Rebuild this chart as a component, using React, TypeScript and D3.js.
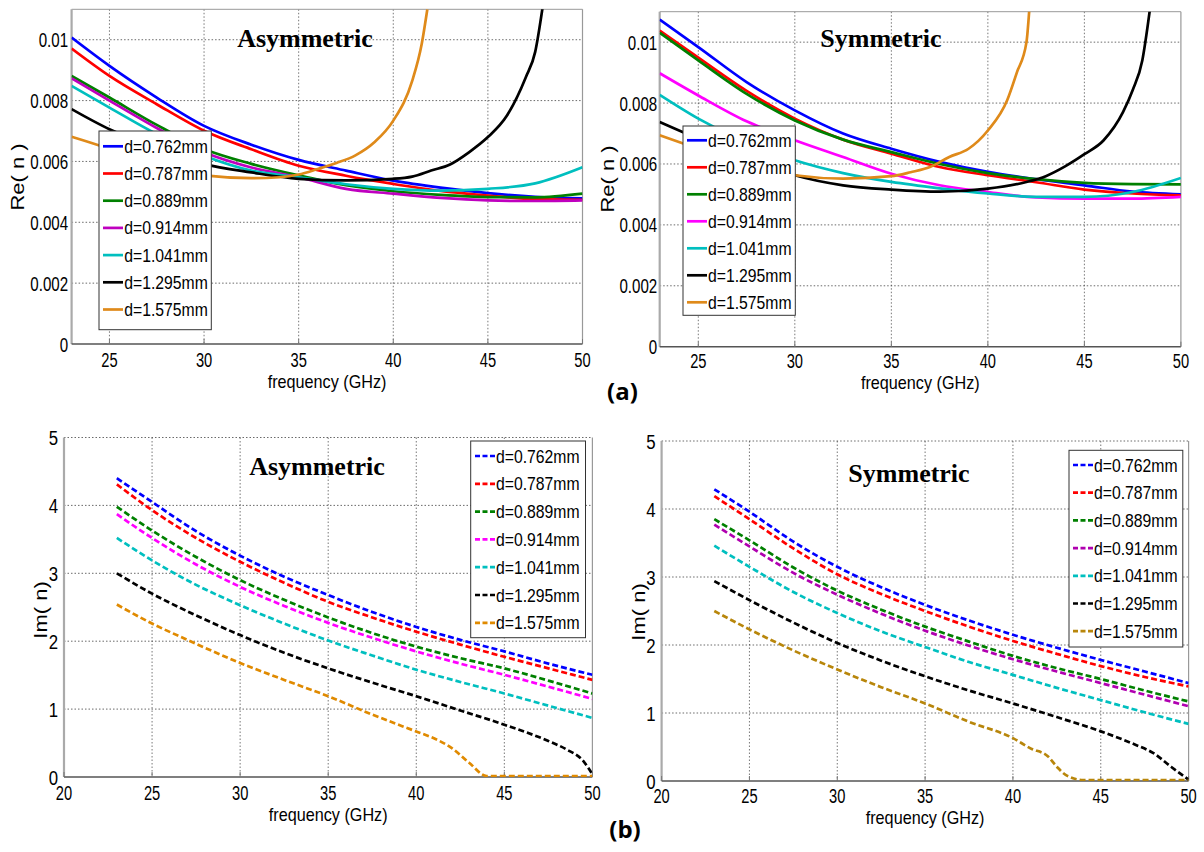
import React from "react";
import * as d3 from "d3";

// ---------- data ----------
const LABELS = ["d=0.762mm", "d=0.787mm", "d=0.889mm", "d=0.914mm", "d=1.041mm", "d=1.295mm", "d=1.575mm"];

const FREQ = [23, 25, 27.5, 30, 32.5, 35, 37.5, 40, 42.5, 45, 47.5, 50];

// Re(n) – asymmetric
const reA_0762 = [0.01007, 0.00914, 0.0081, 0.00717, 0.00655, 0.00605, 0.0057, 0.00537, 0.00514, 0.00496, 0.00484, 0.00479];
const reA_0787 = [0.00971, 0.00881, 0.00788, 0.00701, 0.0064, 0.00586, 0.00553, 0.00526, 0.00503, 0.00488, 0.00476, 0.00474];
const reA_0889 = [0.00881, 0.0081, 0.0072, 0.00641, 0.00592, 0.00554, 0.00522, 0.00502, 0.0049, 0.00483, 0.00482, 0.00494];
const reA_0914 = [0.00873, 0.008, 0.0071, 0.0063, 0.0058, 0.00548, 0.0051, 0.00494, 0.0048, 0.00472, 0.0047, 0.00472];
const reA_1041 = [0.00848, 0.00777, 0.0069, 0.00619, 0.0057, 0.00548, 0.00525, 0.0051, 0.00504, 0.0051, 0.00528, 0.00581];
const fReA_1295 = [23, 25, 27.5, 30, 32.5, 35, 37.5, 40, 41, 42, 43, 44, 45, 46, 47, 47.5, 47.9];
const reA_1295 = [0.00772, 0.00706, 0.00646, 0.00592, 0.00564, 0.00543, 0.00538, 0.00543, 0.0055, 0.0057, 0.0059, 0.0063, 0.0068, 0.0075, 0.00876, 0.0096, 0.0111];
const fReA_1575 = [23, 25, 27.5, 30, 32.5, 34, 35, 36, 37, 38, 39, 40, 41, 41.5, 41.8];
const reA_1575 = [0.00681, 0.00641, 0.0058, 0.00554, 0.00545, 0.00548, 0.00557, 0.00575, 0.00595, 0.0062, 0.00663, 0.00734, 0.00865, 0.00985, 0.011];

// Re(n) – symmetric
const reS_0762 = [0.01074, 0.00984, 0.00869, 0.00776, 0.007, 0.0065, 0.00607, 0.00574, 0.0055, 0.0053, 0.00509, 0.005];
const reS_0787 = [0.01038, 0.00949, 0.0084, 0.00749, 0.0068, 0.00634, 0.0059, 0.00563, 0.0054, 0.00516, 0.00503, 0.00497];
const reS_0889 = [0.01031, 0.0094, 0.0083, 0.00743, 0.0068, 0.00639, 0.006, 0.0057, 0.0055, 0.00538, 0.00534, 0.00533];
const reS_0914 = [0.00898, 0.00825, 0.0074, 0.00678, 0.00623, 0.00568, 0.0053, 0.00508, 0.0049, 0.00486, 0.00486, 0.00492];
const reS_1041 = [0.00827, 0.00749, 0.0067, 0.00612, 0.0057, 0.00541, 0.0052, 0.00503, 0.00492, 0.00492, 0.00508, 0.00554];
const fReS_1295 = [23, 25, 27.5, 30, 32.5, 35, 37.5, 40, 42, 43, 44, 45, 46, 47, 47.5, 48, 48.4];
const reS_1295 = [0.00738, 0.00683, 0.0062, 0.00563, 0.0053, 0.00516, 0.00509, 0.00519, 0.00541, 0.0056, 0.00592, 0.00632, 0.00678, 0.0077, 0.00842, 0.0094, 0.0111];
const fReS_1575 = [23, 25, 28, 30, 32.5, 35, 36, 37, 38, 39, 40, 41, 41.5, 42, 42.15];
const reS_1575 = [0.00694, 0.0065, 0.0059, 0.00563, 0.00552, 0.0056, 0.00573, 0.0059, 0.00623, 0.0065, 0.0071, 0.00809, 0.009, 0.01, 0.0111];

// Im(n) – asymmetric
const imA_0762 = [4.40, 4.05, 3.62, 3.26, 2.95, 2.68, 2.43, 2.21, 2.02, 1.85, 1.67, 1.505];
const imA_0787 = [4.31, 3.93, 3.52, 3.17, 2.86, 2.58, 2.35, 2.14, 1.95, 1.77, 1.6, 1.43];
const imA_0889 = [3.98, 3.63, 3.24, 2.90, 2.61, 2.35, 2.12, 1.92, 1.75, 1.60, 1.42, 1.23];
const imA_0914 = [3.87, 3.52, 3.13, 2.80, 2.52, 2.27, 2.05, 1.85, 1.67, 1.505, 1.33, 1.15];
const imA_1041 = [3.52, 3.19, 2.83, 2.53, 2.26, 2.01, 1.79, 1.58, 1.40, 1.23, 1.05, 0.87];
const fImA_1295 = [23, 25, 27.5, 30, 32.5, 35, 37.5, 40, 42.5, 45, 47.5, 48.5, 49.5, 50];
const imA_1295 = [3.0, 2.70, 2.38, 2.09, 1.83, 1.60, 1.39, 1.19, 0.98, 0.77, 0.53, 0.41, 0.23, 0.04];
const fImA_1575 = [23, 25, 27, 30, 32.5, 35, 37.5, 40, 41, 42, 43, 44, 45, 50];
const imA_1575 = [2.54, 2.26, 2.02, 1.68, 1.43, 1.19, 0.92, 0.67, 0.57, 0.43, 0.21, 0.015, 0.015, 0.015];

// Im(n) – symmetric
const imS_0762 = [4.29, 3.96, 3.52, 3.15, 2.85, 2.59, 2.36, 2.15, 1.96, 1.78, 1.61, 1.44];
const imS_0787 = [4.19, 3.85, 3.42, 3.04, 2.75, 2.50, 2.27, 2.06, 1.87, 1.69, 1.53, 1.39];
const imS_0889 = [3.85, 3.54, 3.14, 2.80, 2.52, 2.27, 2.05, 1.84, 1.66, 1.50, 1.33, 1.17];
const imS_0914 = [3.77, 3.45, 3.06, 2.74, 2.46, 2.21, 1.99, 1.79, 1.61, 1.44, 1.27, 1.10];
const imS_1041 = [3.46, 3.15, 2.78, 2.47, 2.20, 1.97, 1.75, 1.56, 1.37, 1.19, 1.01, 0.84];
const fImS_1295 = [23, 25, 27.5, 30, 32.5, 35, 37.5, 40, 42.5, 45, 47, 48, 49, 50];
const imS_1295 = [2.94, 2.66, 2.33, 2.03, 1.77, 1.54, 1.33, 1.14, 0.94, 0.73, 0.53, 0.41, 0.21, 0.02];
const fImS_1575 = [23, 25, 27.5, 30, 32.5, 35, 37.5, 40, 41, 42, 42.5, 43, 44, 45, 50];
const imS_1575 = [2.50, 2.23, 1.92, 1.64, 1.38, 1.14, 0.87, 0.63, 0.48, 0.36, 0.21, 0.09, 0.015, 0.015, 0.015];

const reTicks = [0, 0.002, 0.004, 0.006, 0.008, 0.01];
const reTickLabels = ["0", "0.002", "0.004", "0.006", "0.008", "0.01"];
const reXTicks = [25, 30, 35, 40, 45, 50];
const imTicks = [0, 1, 2, 3, 4, 5];
const imTickLabels = ["0", "1", "2", "3", "4", "5"];
const imXTicks = [20, 25, 30, 35, 40, 45, 50];

const colorsTL = ["#0000FF", "#FF0000", "#008000", "#BF00BF", "#00BFBF", "#000000", "#DF8A1A"];
const colorsTR = ["#0000FF", "#FF0000", "#008000", "#FF00FF", "#00BFBF", "#000000", "#DF8A1A"];
const colorsBL = ["#0000FF", "#FF0000", "#008000", "#FF00FF", "#00BFBF", "#000000", "#E08A00"];
const colorsBR = ["#0000FF", "#FF0000", "#008000", "#B000B0", "#00BFBF", "#000000", "#B8860B"];

const zip = (f: number[], v: number[]) => f.map((x, i) => [x, v[i]] as [number, number]);

const seriesTL = [zip(FREQ, reA_0762), zip(FREQ, reA_0787), zip(FREQ, reA_0889), zip(FREQ, reA_0914), zip(FREQ, reA_1041), zip(fReA_1295, reA_1295), zip(fReA_1575, reA_1575)];
const seriesTR = [zip(FREQ, reS_0762), zip(FREQ, reS_0787), zip(FREQ, reS_0889), zip(FREQ, reS_0914), zip(FREQ, reS_1041), zip(fReS_1295, reS_1295), zip(fReS_1575, reS_1575)];
const seriesBL = [zip(FREQ, imA_0762), zip(FREQ, imA_0787), zip(FREQ, imA_0889), zip(FREQ, imA_0914), zip(FREQ, imA_1041), zip(fImA_1295, imA_1295), zip(fImA_1575, imA_1575)];
const seriesBR = [zip(FREQ, imS_0762), zip(FREQ, imS_0787), zip(FREQ, imS_0889), zip(FREQ, imS_0914), zip(FREQ, imS_1041), zip(fImS_1295, imS_1295), zip(fImS_1575, imS_1575)];

const SANS = "'Liberation Sans', Arial, sans-serif";
const SERIF = "'Liberation Serif', 'Times New Roman', serif";

function T({ x, y, anchor = "start", size = 16, sx = 1, weight = "normal", family = SANS, children }: any) {
  return (
    <text transform={`translate(${x},${y}) scale(${sx},1)`} textAnchor={anchor} fontSize={size}
      fontFamily={family} fontWeight={weight} fill="#000">{children}</text>
  );
}

function Panel(p: any) {
  const { id, box, xDomain, yDomain, xTicks, yTicks, yLabels, series, colors, dashed,
    legend, title, ylabel, xTickBase, xLabelBase, ylabelPos, yTickGap, yTickSx, bottomStyle } = p;
  const xs = d3.scaleLinear().domain(xDomain).range([box.l, box.r]);
  const ys = d3.scaleLinear().domain(yDomain).range([box.b, box.t]);
  const line = d3.line<[number, number]>().x(d => xs(d[0])).y(d => ys(d[1])).curve(d3.curveMonotoneX);
  const gridX = xTicks.filter((t: number) => t > xDomain[0] && t < xDomain[1]);
  const gridY = yTicks.filter((t: number) => t > yDomain[0] && t <= yDomain[1]);
  return (
    <g>
      <defs>
        <clipPath id={id}>
          <rect x={box.l} y={box.t} width={box.r - box.l} height={box.b - box.t} />
        </clipPath>
      </defs>
      <rect x={box.l} y={box.t} width={box.r - box.l} height={box.b - box.t} fill="#fff" />
      {gridX.map((t: number) => (
        <line key={"gx" + t} x1={xs(t)} x2={xs(t)} y1={box.t} y2={box.b} stroke="#555" strokeWidth={0.8} strokeDasharray="1.5,2" />
      ))}
      {gridY.map((t: number) => (
        <line key={"gy" + t} x1={box.l} x2={box.r} y1={ys(t)} y2={ys(t)} stroke="#444" strokeWidth={0.8} strokeDasharray="1.5,2" />
      ))}
      {/* frame */}
      {!bottomStyle && <line x1={box.l} x2={box.r} y1={box.t} y2={box.t} stroke="#999" strokeWidth={1} />}
      <line x1={box.r} x2={box.r} y1={box.t} y2={box.b} stroke="#999" strokeWidth={1.2} />
      <line x1={box.l} x2={box.l} y1={box.t} y2={box.b} stroke="#aaa" strokeWidth={2.2} />
      <line x1={box.l} x2={box.r} y1={box.b} y2={box.b} stroke="#555" strokeWidth={1.5} />
      {xTicks.map((t: number) => (
        <line key={"tx" + t} x1={xs(t)} x2={xs(t)} y1={box.b} y2={box.b - 5} stroke="#777" strokeWidth={1} />
      ))}
      {/* series */}
      <g clipPath={`url(#${id})`}>
        {series.map((s: [number, number][], i: number) => (
          <path key={"s" + i} d={line(s) || ""} fill="none" stroke={colors[i]} strokeWidth={2.7}
            strokeDasharray={dashed ? "6,3" : undefined} strokeLinejoin="round" />
        ))}
      </g>
      {/* tick labels */}
      {xTicks.map((t: number) => (
        <T key={"xl" + t} x={xs(t)} y={xTickBase} anchor="middle" size={21} sx={0.7}>{String(t)}</T>
      ))}
      {yTicks.map((t: number, i: number) => (
        <T key={"yl" + t} x={box.l - yTickGap} y={ys(t) + 7.5} anchor="end" size={21} sx={yTickSx}>{yLabels[i]}</T>
      ))}
      <T x={(box.l + box.r) / 2} y={xLabelBase} anchor="middle" size={18} sx={0.9}>frequency (GHz)</T>
      <text transform={`translate(${ylabelPos[0]},${ylabelPos[1]}) rotate(-90) scale(1,0.8)`} textAnchor="middle"
        dominantBaseline="central" fontSize={22} fontFamily={SANS} fill="#000">{ylabel}</text>
      {/* title */}
      <T x={title.x} y={title.y} anchor="middle" size={26} weight="bold" family={SERIF}>{title.text}</T>
      {/* legend */}
      <rect x={legend.l} y={legend.t} width={legend.r - legend.l} height={legend.b - legend.t} fill="#fff" stroke="#333" strokeWidth={1} />
      {LABELS.map((lab, i) => {
        const cy = legend.first + i * legend.step;
        return (
          <g key={"lg" + i}>
            <line x1={legend.s0} x2={legend.s1} y1={cy} y2={cy} stroke={colors[i]} strokeWidth={2.7}
              strokeDasharray={dashed ? "5,2.5" : undefined} />
            <T x={legend.tx} y={cy + 6.5} size={17.5} sx={0.9}>{lab}</T>
          </g>
        );
      })}
    </g>
  );
}

export default function App() {
  return (
    <svg width={1204} height={852} style={{ position: "absolute", left: 0, top: 0, background: "#fff" }}>
      <rect x={0} y={0} width={1204} height={852} fill="#fff" />
      <Panel id="cTL" box={{ l: 71.6, r: 582.5, t: 9.3, b: 344 }} xDomain={[23, 50]} yDomain={[0, 0.011]}
        xTicks={reXTicks} yTicks={reTicks} yLabels={reTickLabels} series={seriesTL} colors={colorsTL} dashed={false}
        legend={{ l: 99, r: 211.3, t: 131, b: 329.7, first: 146.3, step: 27.2, s0: 103, s1: 123, tx: 124.3 }}
        title={{ text: "Asymmetric", x: 305, y: 47 }} ylabel="Re( n )" xTickBase={367} xLabelBase={388}
        ylabelPos={[18, 177]} yTickGap={3.5} yTickSx={0.72} />
      <Panel id="cTR" box={{ l: 659.7, r: 1180.9, t: 11.7, b: 346.7 }} xDomain={[23, 50]} yDomain={[0, 0.011]}
        xTicks={reXTicks} yTicks={reTicks} yLabels={reTickLabels} series={seriesTR} colors={colorsTR} dashed={false}
        legend={{ l: 683, r: 795.3, t: 126, b: 315.3, first: 140.3, step: 27, s0: 687, s1: 707, tx: 708 }}
        title={{ text: "Symmetric", x: 881, y: 47 }} ylabel="Re( n )" xTickBase={368} xLabelBase={389}
        ylabelPos={[608, 179]} yTickGap={2.5} yTickSx={0.72} />
      <Panel id="cBL" box={{ l: 64, r: 592.4, t: 437.5, b: 777 }} xDomain={[20, 50]} yDomain={[0, 5]}
        xTicks={imXTicks} yTicks={imTicks} yLabels={imTickLabels} series={seriesBL} colors={colorsBL} dashed={true}
        legend={{ l: 470.7, r: 585.5, t: 441, b: 637.7, first: 456, step: 27.8, s0: 475, s1: 495, tx: 496 }}
        title={{ text: "Asymmetric", x: 317, y: 475 }} ylabel="Im( n)" xTickBase={800} xLabelBase={821}
        ylabelPos={[41, 610]} yTickGap={6} yTickSx={0.8} bottomStyle={true} />
      <Panel id="cBR" box={{ l: 661.6, r: 1188.6, t: 441, b: 781 }} xDomain={[20, 50]} yDomain={[0, 5]}
        xTicks={imXTicks} yTicks={imTicks} yLabels={imTickLabels} series={seriesBR} colors={colorsBR} dashed={true}
        legend={{ l: 1069, r: 1182.8, t: 450.3, b: 647, first: 465, step: 27.7, s0: 1073, s1: 1093, tx: 1094 }}
        title={{ text: "Symmetric", x: 909, y: 482 }} ylabel="Im( n)" xTickBase={803} xLabelBase={824}
        ylabelPos={[639, 612]} yTickGap={6} yTickSx={0.8} bottomStyle={true} />
      <text x={622.5} y={400} textAnchor="middle" fontSize={24} fontWeight="bold" fontFamily="'Open Sans', sans-serif">(a)</text>
      <text x={625} y={838} textAnchor="middle" fontSize={24} fontWeight="bold" fontFamily="'Open Sans', sans-serif">(b)</text>
    </svg>
  );
}
